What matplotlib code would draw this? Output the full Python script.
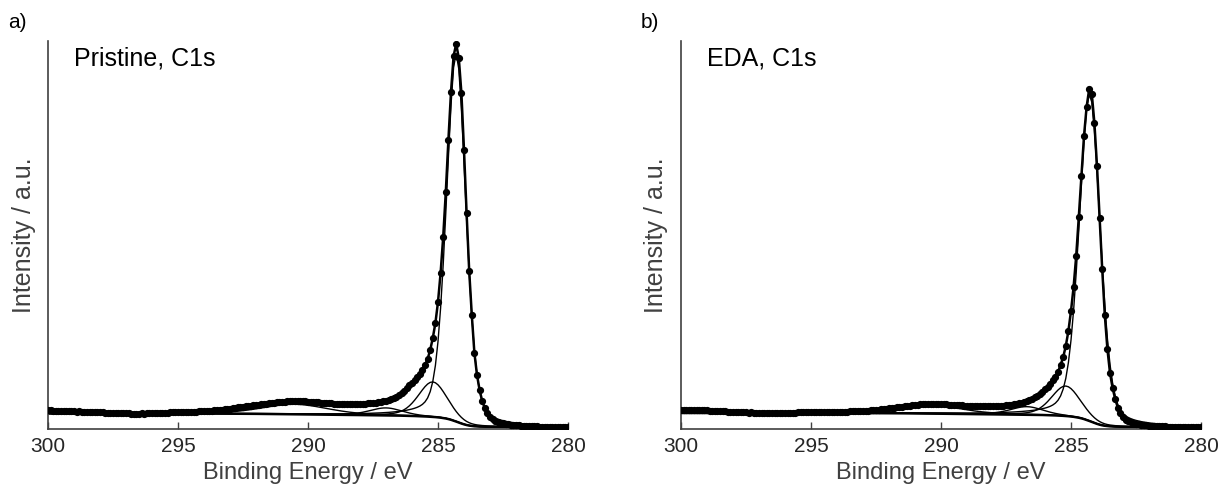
import numpy as np
import matplotlib
matplotlib.use("Agg")
import matplotlib.pyplot as plt

plt.rcParams['font.family'] = ['Liberation Sans', 'DejaVu Sans']

# binding energy grid of the measurement (0.1 eV steps, 300 -> 280 eV)
be = np.round(np.linspace(300.0, 280.0, 201), 1)

pristine = np.array([
    19, 19, 18.5, 18.5, 18.5, 18, 18.5, 18, 18, 18,
    18, 17.5, 18, 17.5, 17.5, 17.5, 17, 17.5, 17, 17,
    17, 17, 16.5, 16.5, 16.5, 16.5, 16, 16.5, 16, 16,
    16, 16, 15.5, 15.5, 15.5, 15.5, 16, 15.5, 16, 16,
    16, 16, 16.5, 16, 16.5, 16.5, 16.5, 17, 17, 17,
    17, 17, 17.5, 17, 17.5, 17.5, 17.5, 17.5, 18, 18,
    18, 18, 18.5, 18.5, 19, 19, 19.5, 19.5, 20, 20.5,
    20.5, 21, 21.5, 22, 22, 22.5, 23, 23, 23.5, 24,
    24, 24.5, 25, 25.5, 25.5, 26, 26.5, 26.5, 27, 27,
    27.5, 27.5, 28, 28, 28, 28.5, 28, 28, 28, 28,
    27.5, 27.5, 27.5, 27, 27, 26.5, 26.5, 26.5, 26, 26,
    25.5, 25.5, 25.5, 25, 25, 25, 25, 25, 25, 25,
    25.5, 25.5, 25.5, 26, 26, 26.5, 26.5, 27, 27.5, 28,
    28.5, 29.5, 30.5, 31.5, 32.5, 34, 36, 38.5, 41, 44,
    46.5, 49, 52, 55.5, 59.5, 64, 70, 79, 91, 106,
    127, 156, 192, 237, 289, 337, 373, 385, 371, 336,
    279, 216, 158, 114, 76, 54, 39, 28, 21, 16,
    12, 10, 8.5, 7.5, 6.5, 6, 5.5, 5, 4.5, 4.5,
    4, 4, 3.5, 3.5, 3.5, 3, 3, 3, 3, 2.5,
    2.5, 2.5, 2.5, 2.5, 2, 2, 2, 2, 2, 2,
    2])

eda = np.array([
    19.5, 19.5, 19.5, 19, 19, 19, 19, 19, 19, 19,
    19, 18.5, 18.5, 18.5, 18, 18, 18, 18, 17.5, 17.5,
    17.5, 17.5, 17, 17, 17, 17, 16.5, 17, 16.5, 16.5,
    16.5, 16.5, 16.5, 16, 16.5, 16, 16, 16, 16.5, 16.5,
    16.5, 16.5, 16.5, 16.5, 16.5, 17, 17, 17, 17, 17,
    17, 17, 17, 17, 17, 17, 17.5, 17, 17.5, 17.5,
    17.5, 17.5, 17.5, 17.5, 17.5, 18, 18, 18, 18, 18,
    18.5, 18.5, 18.5, 19, 19, 19.5, 19.5, 20, 20, 20.5,
    21, 21, 21.5, 22, 22, 22.5, 23, 23, 23.5, 24,
    24, 24.5, 25, 25, 25.5, 25.5, 25.5, 25.5, 25.5, 25.5,
    25, 25, 25, 24.5, 24.5, 24.5, 24, 24, 24, 23.5,
    23.5, 23.5, 23.5, 23, 23, 23, 23, 23, 23, 23,
    23, 23, 23.5, 23.5, 23.5, 24, 24, 24.5, 25, 25.5,
    26, 26.5, 27.5, 28.5, 29.5, 30.5, 32, 33.5, 35.5, 37.5,
    40, 42.5, 45.5, 49, 52.5, 57, 64, 72, 83, 98,
    118, 142, 173, 212, 253, 293, 322, 340, 335, 306,
    263, 211, 160, 114, 80, 56, 41, 30, 21.5, 16.5,
    12.5, 9.5, 8, 7, 6, 5.5, 5, 4.5, 4, 4,
    3.5, 3.5, 3.5, 3, 3, 3, 3, 2.5, 2.5, 2.5,
    2.5, 2.5, 2, 2, 2, 2, 2, 2, 2, 2,
    2])

# fitted components: centre (eV), FWHM (eV), height above background
pristine_centre = [284.30, 285.20, 287.00, 290.50]
pristine_fwhm = [0.88, 1.30, 1.50, 3.00]
pristine_height = [368, 35, 7.5, 10]

eda_centre = [284.28, 285.20, 286.70, 290.60]
eda_fwhm = [0.95, 1.30, 1.50, 3.00]
eda_height = [327, 30, 8, 9]

panel_letters = ['a)', 'b)']
panel_titles = ['Pristine, C1s', 'EDA, C1s']
xticks = [300, 295, 290, 285, 280]

GL_MIX = 0.3      # Lorentzian fraction of the GL line shape
BG_START = 296.5  # high-BE end of the Shirley background


def gl(x, c, w, h):
    g = np.exp(-4 * np.log(2) * ((x - c) / w) ** 2)
    l = 1.0 / (1.0 + 4 * ((x - c) / w) ** 2)
    return h * ((1 - GL_MIX) * g + GL_MIX * l)


def shirley(y, i0, n_iter=40):
    seg = y[i0:]
    hi, lo = seg[0], seg[-1]
    b = np.full_like(seg, lo)
    for _ in range(n_iter):
        cum = np.cumsum((seg - b)[::-1])[::-1]
        b = lo + (hi - lo) * cum / cum[0]
    return np.concatenate([np.full(i0, hi), b])


fig = plt.figure(figsize=(12.22, 5.04), dpi=100)
lefts = [48 / 1222, 681 / 1222]
data = [pristine, eda]
fits = [(pristine_centre, pristine_fwhm, pristine_height),
        (eda_centre, eda_fwhm, eda_height)]

for k in range(2):
    ax = fig.add_axes([lefts[k], 75 / 504, 520 / 1222, 388 / 504])
    y = data[k]
    i0 = int(np.argmin(np.abs(be - BG_START)))
    bg = shirley(y, i0)

    for c, w, h in zip(*fits[k]):
        ax.plot(be, bg + gl(be, c, w, h), color='black', lw=1.0, zorder=2)
    ax.plot(be, bg, color='black', lw=1.8, zorder=2)
    ax.plot(be, y, color='black', lw=1.8, zorder=3)
    ax.plot(be, y, 'o', color='black', ms=4.2, zorder=4)

    ax.set_xlim(300, 280)
    ax.set_ylim(0, 388)
    ax.set_xticks(xticks)
    ax.set_yticks([])
    ax.tick_params(axis='x', direction='in', length=5, width=1,
                   color='#404040', labelsize=15, labelcolor='#262626', pad=6)
    for s in ['top', 'right']:
        ax.spines[s].set_visible(False)
    for s in ['left', 'bottom']:
        ax.spines[s].set_color('#404040')
        ax.spines[s].set_linewidth(1.2)
    ax.set_xlabel('Binding Energy / eV', fontsize=17, color='#404040', labelpad=4)
    ax.set_ylabel('Intensity / a.u.', fontsize=18, color='#404040', labelpad=9)
    ax.text(0.05, 0.985, panel_titles[k], transform=ax.transAxes,
            fontsize=18, va='top', ha='left', color='black')
    fig.text(lefts[k] - 40 / 1222, 1 - 22 / 504, panel_letters[k],
             fontsize=15, va='center', ha='left', color='black')

fig.savefig('out.png', dpi=100)
